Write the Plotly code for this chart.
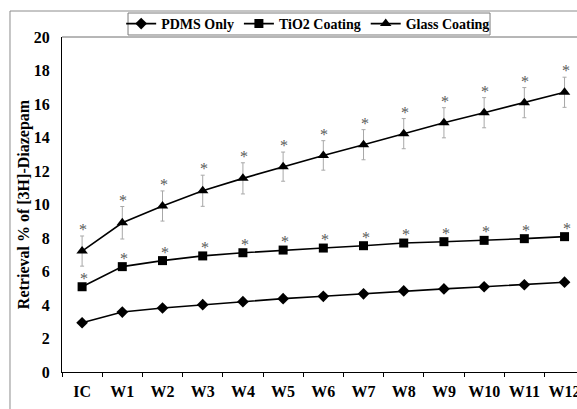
import plotly.graph_objects as go

# Sampling points and retrieval percentages per coating
categories = ["IC", "W1", "W2", "W3", "W4", "W5", "W6", "W7", "W8", "W9", "W10", "W11", "W12"]
pdms_only = [2.94, 3.58, 3.82, 4.02, 4.20, 4.38, 4.52, 4.67, 4.84, 4.96, 5.09, 5.21, 5.36]
tio2_coating = [5.09, 6.29, 6.65, 6.93, 7.12, 7.28, 7.40, 7.54, 7.70, 7.78, 7.86, 7.96, 8.08]
glass_coating = [7.22, 8.91, 9.91, 10.82, 11.56, 12.26, 12.93, 13.57, 14.23, 14.88, 15.48, 16.08, 16.70]
glass_err = [0.90, 0.97, 0.90, 0.93, 0.93, 0.87, 0.88, 0.90, 0.90, 0.90, 0.90, 0.90, 0.90]
y_ticks = [0, 2, 4, 6, 8, 10, 12, 14, 16, 18, 20]

FONT = "Liberation Serif"
STAR = dict(family=FONT, size=16, color="#5a5a5a")

fig = go.Figure()

fig.add_trace(go.Scatter(
    x=categories, y=pdms_only, name="PDMS Only", mode="lines+markers",
    line=dict(color="black", width=1.6),
    marker=dict(symbol="diamond", size=9, color="black"),
))
fig.add_trace(go.Scatter(
    x=categories, y=tio2_coating, name="TiO2 Coating", mode="lines+markers",
    line=dict(color="black", width=1.6),
    marker=dict(symbol="square", size=9, color="black"),
))
fig.add_trace(go.Scatter(
    x=categories, y=glass_coating, name="Glass Coating", mode="lines+markers",
    line=dict(color="black", width=1.6),
    marker=dict(symbol="triangle-up", size=10, color="black"),
    error_y=dict(type="data", array=glass_err, color="#a8a8a8", thickness=1, width=2),
))

# significance markers
for cat, v, e in zip(categories, glass_coating, glass_err):
    fig.add_annotation(x=cat, y=v + e, text="*", showarrow=False, yanchor="bottom",
                       xshift=1, yshift=-4, font=STAR)
for cat, v in zip(categories, tio2_coating):
    fig.add_annotation(x=cat, y=v, text="*", showarrow=False, yanchor="bottom",
                       xshift=2, yshift=-2, font=STAR)

# outer chart frame, top edge of the plot area and legend box
fig.add_shape(type="rect", xref="paper", yref="paper", x0=-0.101, x1=1.2, y0=-0.3, y1=1.0776,
              line=dict(color="#8c8c8c", width=1), layer="below")
fig.add_shape(type="line", xref="paper", yref="paper", x0=0, x1=1.1, y0=1, y1=1,
              line=dict(color="#6e6e6e", width=1))
fig.add_shape(type="rect", xref="paper", yref="paper", x0=0.1282, x1=0.8311, y0=1.0060, y1=1.0716,
              line=dict(color="#7a7a7a", width=1), fillcolor="rgba(0,0,0,0)", layer="above")

fig.update_layout(
    width=577, height=409,
    margin=dict(l=62, r=0, t=37, b=37, autoexpand=False),
    paper_bgcolor="white", plot_bgcolor="white",
    font=dict(family=FONT, size=16, color="black"),
    showlegend=True,
    legend=dict(
        orientation="h", x=0.478, xanchor="center", y=1.0388, yanchor="middle",
        bgcolor="rgba(0,0,0,0)", borderwidth=0,
        font=dict(family=FONT, size=14, color="black", weight="bold"),
        itemwidth=30, tracegroupgap=0,
    ),
)

fig.update_xaxes(
    type="category", range=[-0.5, 12.31], tickangle=0, automargin=False,
    showline=True, linecolor="black", linewidth=1.2,
    ticks="outside", tickson="boundaries", ticklen=4, tickcolor="black",
    showgrid=False, zeroline=False, ticklabelstandoff=5,
    tickfont=dict(family=FONT, size=16, color="black", weight="bold"),
)
fig.update_yaxes(
    range=[0, 20], tickvals=y_ticks, automargin=False,
    showline=True, linecolor="black", linewidth=1.2,
    ticks="", showgrid=False, zeroline=False,
    ticklabelstandoff=8,
    tickfont=dict(family=FONT, size=16, color="black", weight="bold"),
    title=dict(text="Retrieval % of [3H]-Diazepam", standoff=0,
               font=dict(family=FONT, size=16, color="black", weight="bold")),
)

fig.write_html("out.html")
